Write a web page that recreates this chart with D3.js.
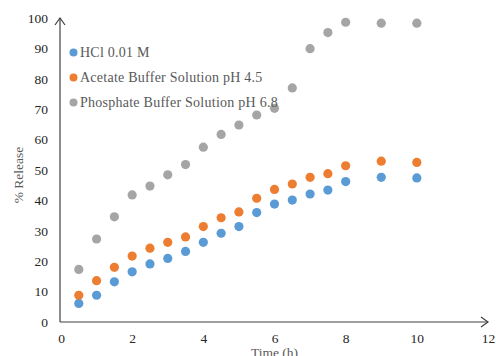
<!DOCTYPE html>
<html><head><meta charset="utf-8">
<script src="https://cdn.jsdelivr.net/npm/d3@7"></script>
<style>body{margin:0;background:#fff;} svg{display:block;} text{font-family:"Liberation Serif","Times New Roman",serif;}</style>
</head><body><svg id="c" width="496" height="356"></svg>
<script>
const times = [0.5,1,1.5,2,2.5,3,3.5,4,4.5,5,5.5,6,6.5,7,7.5,8,9,10];
const hcl = [6.1,8.8,13.2,16.5,19.1,20.9,23.2,26.2,29.2,31.4,36.0,38.8,40.1,42.1,43.4,46.2,47.6,47.4];
const acetate = [8.8,13.6,18.0,21.7,24.3,26.2,28.0,31.4,34.3,36.2,40.7,43.6,45.4,47.6,48.8,51.4,52.9,52.5];
const phosphate = [17.3,27.3,34.6,41.8,44.7,48.4,51.8,57.5,61.7,64.8,68.1,70.3,77.0,89.9,95.2,98.6,98.3,98.3];
const seriesNames = ["HCl 0.01 M","Acetate Buffer Solution pH 4.5","Phosphate Buffer Solution pH 6.8"];
const seriesColors = ["#5B9BD5","#ED7D31","#A5A5A5"];
const xTicks = [0,2,4,6,8,10,12];
const yTicks = [0,10,20,30,40,50,60,70,80,90,100];
const xTitle = "Time (h)";
const yTitle = "% Release";

const svg = d3.select("#c");
const x = d3.scaleLinear().domain([0,12]).range([61,488]);
const y = d3.scaleLinear().domain([0,100]).range([322,18]);
const axisColor = "#404040";
const font = "'Liberation Serif','Times New Roman',serif";

const xAxis = d3.axisBottom(x).tickValues(xTicks).tickSize(0).tickPadding(11);
const gx = svg.append("g").attr("transform",`translate(0,${y(0)})`).call(xAxis);
gx.select(".domain").remove();
gx.selectAll("text").attr("font-size",13.5).attr("fill","#262626").style("font-family",font);
const yAxis = d3.axisLeft(y).tickValues(yTicks).tickSize(0).tickPadding(13);
const gy = svg.append("g").attr("transform",`translate(${x(0)},0)`).call(yAxis);
gy.select(".domain").remove();
gy.selectAll("text").attr("font-size",13.5).attr("fill","#262626").style("font-family",font);

svg.append("line").attr("x1",x(0)-1).attr("x2",x(12)).attr("y1",y(0)).attr("y2",y(0)).attr("stroke",axisColor).attr("stroke-width",1.2);
svg.append("line").attr("x1",x(0)-1).attr("x2",x(0)-1).attr("y1",y(0)).attr("y2",y(100)).attr("stroke",axisColor).attr("stroke-width",1.2);
svg.append("path").attr("d",`M${x(12)-7},${y(0)-5}L${x(12)},${y(0)}L${x(12)-7},${y(0)+5}`).attr("fill","none").attr("stroke",axisColor).attr("stroke-width",1.2);
svg.append("path").attr("d",`M${x(0)-6},${y(100)+7}L${x(0)-1},${y(100)}L${x(0)+4},${y(100)+7}`).attr("fill","none").attr("stroke",axisColor).attr("stroke-width",1.2);

const data = [hcl,acetate,phosphate];
data.forEach((vals,i)=>{
  svg.append("g").selectAll("circle").data(vals).join("circle")
    .attr("cx",(d,j)=>x(times[j])).attr("cy",d=>y(d)).attr("r",4.6).attr("fill",seriesColors[i]);
});

const lg = svg.append("g");
seriesNames.forEach((n,i)=>{
  const ly = 52.5 + i*25;
  lg.append("circle").attr("cx",73.5).attr("cy",ly).attr("r",4).attr("fill",seriesColors[i]);
  lg.append("text").attr("x",80).attr("y",ly+4).attr("font-size",14).style("letter-spacing","0.25px").attr("fill","#595959").text(n);
});

svg.append("text").attr("x",(x(0)+x(12))/2).attr("y",357).attr("text-anchor","middle").attr("font-size",13.5).attr("fill","#595959").text(xTitle);
svg.append("text").attr("transform",`translate(23,${175}) rotate(-90)`).attr("text-anchor","middle").attr("font-size",13.5).attr("fill","#595959").text(yTitle);
</script></body></html>
